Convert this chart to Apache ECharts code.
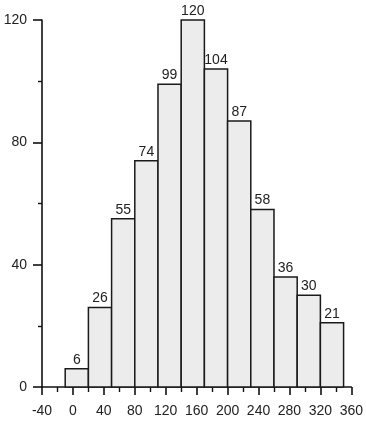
<!DOCTYPE html>
<html>
<head>
<meta charset="utf-8">
<script src="https://cdn.jsdelivr.net/npm/echarts@6/dist/echarts.min.js"></script>
<style>html,body{margin:0;padding:0;background:#fff}#c{width:366px;height:421px}</style>
</head>
<body>
<div id="c"></div>
<script>
var binStarts = [-10, 20, 50, 80, 110, 140, 170, 200, 230, 260, 290, 320];
var binEnds   = [20, 50, 80, 110, 140, 170, 200, 230, 260, 290, 320, 350];
var counts    = [6, 26, 55, 74, 99, 120, 104, 87, 58, 36, 30, 21];
var xTicks = [-40, 0, 40, 80, 120, 160, 200, 240, 280, 320, 360];
var yTicks = [0, 40, 80, 120];

var data = counts.map(function (c, i) { return [binStarts[i], binEnds[i], c]; });
var chart = echarts.init(document.getElementById('c'), null, {renderer: 'canvas'});
var font = 'Liberation Sans, Arial, sans-serif';
chart.setOption({
  animation: false,
  grid: {left: 42, right: 14, top: 20, bottom: 34},
  xAxis: {
    type: 'value', min: xTicks[0], max: xTicks[xTicks.length - 1], interval: 40,
    axisLine: {show: true, onZero: false, lineStyle: {color: '#111', width: 1.6}},
    axisTick: {show: true, length: 8, lineStyle: {color: '#111', width: 1.6}},
    minorTick: {show: true, splitNumber: 2, length: 5, lineStyle: {color: '#111', width: 1.4}},
    splitLine: {show: false},
    axisLabel: {color: '#222', fontSize: 14, fontFamily: font, margin: 17}
  },
  yAxis: {
    type: 'value', min: yTicks[0], max: yTicks[yTicks.length - 1], interval: 40,
    axisLine: {show: true, onZero: false, lineStyle: {color: '#111', width: 1.6}},
    axisTick: {show: true, length: 9, lineStyle: {color: '#111', width: 1.6}},
    minorTick: {show: true, splitNumber: 2, length: 4, lineStyle: {color: '#111', width: 1.4}},
    splitLine: {show: false},
    axisLabel: {color: '#222', fontSize: 14, fontFamily: font, margin: 15}
  },
  series: [{
    type: 'custom',
    data: data,
    encode: {x: [0, 1], y: 2},
    renderItem: function (params, api) {
      var p0 = api.coord([api.value(0), api.value(2)]);
      var p1 = api.coord([api.value(1), 0]);
      return {
        type: 'group',
        children: [{
          type: 'rect',
          shape: {x: p0[0], y: p0[1], width: p1[0] - p0[0], height: p1[1] - p0[1]},
          style: {fill: '#ececec', stroke: '#1a1a1a', lineWidth: 1.5}
        }, {
          type: 'text',
          style: {
            text: String(api.value(2)), x: (p0[0] + p1[0]) / 2, y: p0[1] - 2,
            align: 'center', verticalAlign: 'bottom',
            fill: '#222', font: '14px ' + font
          }
        }]
      };
    }
  }]
});
</script>
</body>
</html>
